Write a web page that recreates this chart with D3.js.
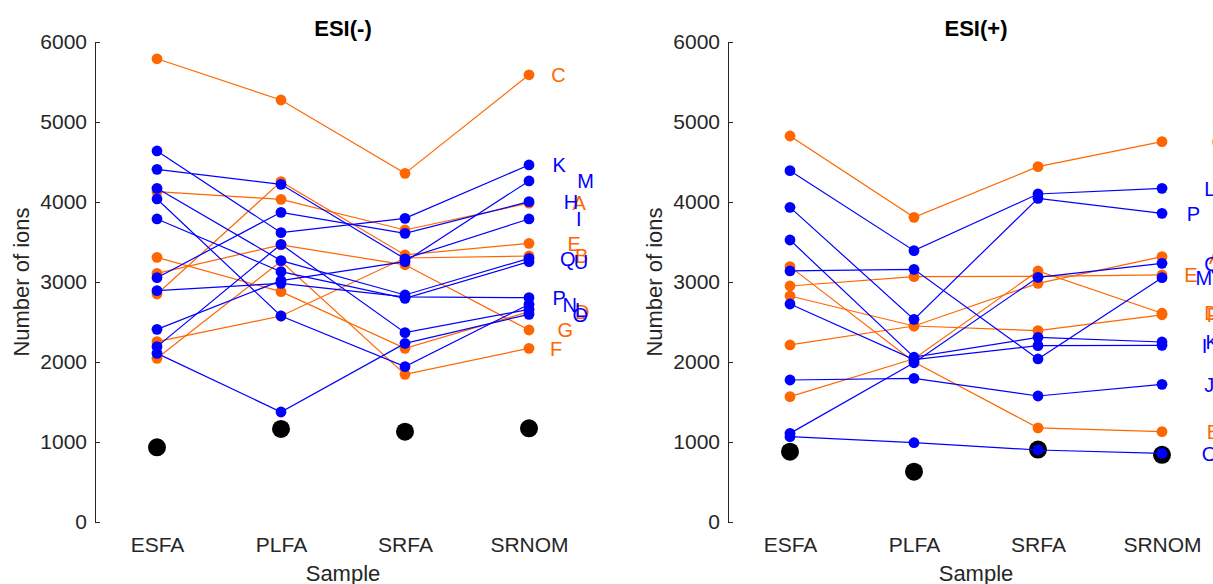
<!DOCTYPE html>
<html>
<head>
<meta charset="utf-8">
<script src="https://cdn.jsdelivr.net/npm/d3@7"></script>
<style>
  body { margin: 0; background: #fff; }
  svg { display: block; font-family: 'Liberation Sans', Arial, Helvetica, sans-serif; }
</style>
</head>
<body>
<div id="chart"></div>
<script>
var samples = ['ESFA', 'PLFA', 'SRFA', 'SRNOM'];
var yTicks = [0, 1000, 2000, 3000, 4000, 5000, 6000];

// ESI(-) : kind 1 = orange group, kind 2 = blue group
var negNames = ['A', 'B', 'C', 'D', 'E', 'F', 'G', 'H', 'I', 'K', 'L', 'M', 'N', 'O', 'P', 'Q', 'U'];
var negKinds = [1, 1, 1, 1, 1, 1, 1, 2, 2, 2, 2, 2, 2, 2, 2, 2, 2];
var negValues = [
  [4129, 4033, 3650, 3985],
  [2254, 2575, 3300, 3325],
  [5790, 5275, 4358, 5590],
  [3308, 2879, 2171, 2629],
  [2850, 4254, 3338, 3483],
  [2046, 3260, 1846, 2171],
  [3108, 3463, 3215, 2400],
  [3054, 3871, 3608, 4004],
  [4408, 4221, 3290, 3788],
  [4638, 3617, 3796, 4463],
  [2192, 3471, 2367, 2658],
  [2408, 3017, 3255, 4263],
  [4038, 2575, 1942, 2721],
  [2108, 1375, 2233, 2596],
  [2892, 2983, 2815, 2804],
  [4171, 3267, 2838, 3296],
  [3788, 3129, 2796, 3254]
];
var negBlank = [933, 1163, 1129, 1171];
// label nudge to the right of the last sample, in category units
var negLabelShift = [0.35, 0.37, 0.18, 0.37, 0.31, 0.17, 0.23, 0.28, 0.38, 0.19, 0.37, 0.39, 0.27, 0.35, 0.19, 0.25, 0.36];

// ESI(+)
var posNames = ['A', 'B', 'C', 'D', 'E', 'F', 'I', 'J', 'K', 'L', 'M', 'O', 'P', 'Q'];
var posKinds = [1, 1, 1, 1, 1, 1, 2, 2, 2, 2, 2, 2, 2, 2];
var posValues = [
  [2825, 2450, 2983, 3317],
  [3192, 2000, 1177, 1129],
  [4825, 3808, 4442, 4754],
  [1567, 2040, 3138, 2610],
  [2950, 3067, 3070, 3088],
  [2213, 2450, 2392, 2590],
  [2725, 2030, 2204, 2208],
  [1775, 1796, 1575, 1721],
  [3525, 2060, 2308, 2250],
  [4392, 3392, 4100, 4171],
  [3138, 3158, 2038, 3054],
  [1067, 991, 900, 858],
  [3933, 2533, 4046, 3858],
  [1108, 1990, 3058, 3233]
];
var posBlank = [879, 629, 905, 840];
var posLabelShift = [0.38, 0.36, 0.40, 0.34, 0.18, 0.36, 0.32, 0.34, 0.35, 0.34, 0.27, 0.32, 0.20, 0.34];

var kindColors = { 1: '#ff6600', 2: '#0000ff' };
var axisColor = '#262626';

var svg = d3
  .select('#chart')
  .append('svg')
  .attr('width', 1213)
  .attr('height', 584);

drawPanel({ left: 95, title: 'ESI(-)', names: negNames, kinds: negKinds, values: negValues, blank: negBlank, shifts: negLabelShift });
drawPanel({ left: 728, title: 'ESI(+)', names: posNames, kinds: posKinds, values: posValues, blank: posBlank, shifts: posLabelShift });

function drawPanel({ left, title, names, kinds, values, blank, shifts }) {
  var x = d3.scaleLinear().domain([0.5, 4.5]).range([left, left + 496]);
  var y = d3.scaleLinear().domain([0, 6000]).range([522, 42]);
  var mid = left + 248;

  var g = svg.append('g');

  // y axis, ticks pointing inward
  var yAxis = g
    .append('g')
    .attr('transform', `translate(${left},0)`)
    .call(
      d3.axisLeft(y)
        .tickValues(yTicks)
        .tickFormat(d3.format('d'))
        .tickSizeInner(-5)
        .tickSizeOuter(0)
        .tickPadding(8)
    );
  yAxis.select('.domain').attr('stroke', axisColor).attr('stroke-width', 1);
  yAxis.selectAll('.tick line').attr('stroke', axisColor);
  yAxis.selectAll('.tick text').attr('fill', axisColor).style('font-size', '21px');

  // x axis: labels only, no line
  var xAxis = g
    .append('g')
    .attr('transform', 'translate(0,522)')
    .call(
      d3.axisBottom(x)
        .tickValues([1, 2, 3, 4])
        .tickFormat(function (d) { return samples[d - 1]; })
        .tickSize(0)
        .tickPadding(15)
    );
  xAxis.select('.domain').remove();
  xAxis.selectAll('.tick text').attr('fill', axisColor).style('font-size', '21px');

  g.append('text')
    .attr('x', mid)
    .attr('y', 36)
    .attr('text-anchor', 'middle')
    .style('font-size', '22px')
    .style('font-weight', 'bold')
    .attr('fill', '#000')
    .text(title);

  g.append('text')
    .attr('x', mid)
    .attr('y', 581)
    .attr('text-anchor', 'middle')
    .style('font-size', '22px')
    .attr('fill', axisColor)
    .text('Sample');

  g.append('text')
    .attr('transform', `translate(${left - 66},282) rotate(-90)`)
    .attr('text-anchor', 'middle')
    .style('font-size', '22px')
    .attr('fill', axisColor)
    .text('Number of ions');

  // black reference markers go underneath the series
  g.append('g')
    .selectAll('circle')
    .data(blank)
    .join('circle')
    .attr('cx', function (d, i) { return x(i + 1); })
    .attr('cy', function (d) { return y(d); })
    .attr('r', 9)
    .attr('fill', '#000');

  var series = names.map(function (name, i) {
    return { name: name, color: kindColors[kinds[i]], values: values[i], shift: shifts[i] };
  });

  var line = d3
    .line()
    .x(function (d, i) { return x(i + 1); })
    .y(function (d) { return y(d); });

  var groups = g
    .append('g')
    .selectAll('g')
    .data(series)
    .join('g');

  groups
    .append('path')
    .attr('d', function (s) { return line(s.values); })
    .attr('fill', 'none')
    .attr('stroke', function (s) { return s.color; })
    .attr('stroke-width', 1.2);

  groups
    .selectAll('circle')
    .data(function (s) { return s.values.map(function (v) { return { v: v, color: s.color }; }); })
    .join('circle')
    .attr('cx', function (d, i) { return x(i + 1); })
    .attr('cy', function (d) { return y(d.v); })
    .attr('r', 5.4)
    .attr('fill', function (d) { return d.color; });

  g.append('g')
    .selectAll('text')
    .data(series)
    .join('text')
    .attr('x', function (s) { return x(4 + s.shift); })
    .attr('y', function (s) { return y(s.values[3]); })
    .attr('dy', '0.36em')
    .style('font-size', '20px')
    .attr('fill', function (s) { return s.color; })
    .text(function (s) { return s.name; });
}
</script>
</body>
</html>
